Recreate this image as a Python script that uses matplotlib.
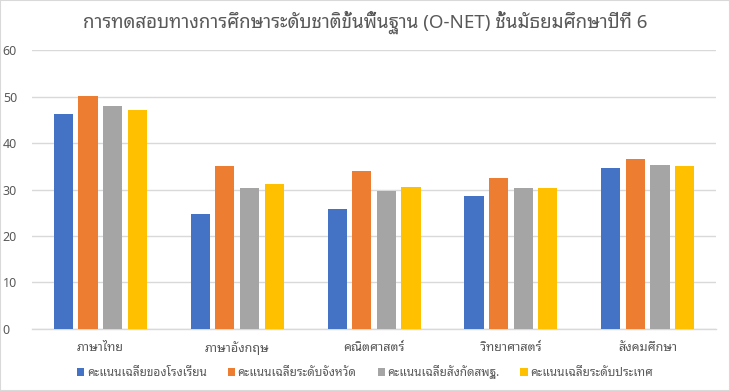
import matplotlib
matplotlib.use('Agg')
import matplotlib.pyplot as plt
from matplotlib.patches import Rectangle
import numpy as np

categories = ['ภาษาไทย', 'ภาษาอังกฤษ', 'คณิตศาสตร์', 'วิทยาศาสตร์', 'สังคมศึกษา']
series_names = ['คะแนนเฉลี่ยของโรงเรียน', 'คะแนนเฉลี่ยระดับจังหวัด', 'คะแนนเฉลี่ยสังกัดสพฐ.', 'คะแนนเฉลี่ยระดับประเทศ']
school = [46.2, 24.7, 25.8, 28.6, 34.6]
province = [50.1, 35.1, 34.0, 32.5, 36.6]
obec = [48.0, 30.3, 29.7, 30.3, 35.3]
national = [47.1, 31.2, 30.5, 30.3, 35.1]
colors = ['#4472C4', '#ED7D31', '#A5A5A5', '#FFC000']
yticks = [0, 10, 20, 30, 40, 50, 60]
title = 'การทดสอบทางการศึกษาระดับชาติขั้นพื้นฐาน (O-NET) ชั้นมัธยมศึกษาปีที่ 6'

FAM = ['Noto Sans Thai Looped', 'Noto Sans Thai', 'DejaVu Sans']
plt.rcParams['font.family'] = FAM

fig = plt.figure(figsize=(7.3, 3.91), dpi=100)
fig.patches.append(Rectangle((0, 0), 1, 1, transform=fig.transFigure, fill=False,
                             edgecolor='#D9D9D9', linewidth=1.5))
ax = fig.add_axes([0.0438, 0.1586, 0.9372, 0.7134])

x = np.arange(len(categories))
step = 0.18
width = 0.14
data = [school, province, obec, national]
for i, (vals, c, n) in enumerate(zip(data, colors, series_names)):
    ax.bar(x + (i - 1.5) * step, vals, width=width, color=c, label=n, zorder=3)

ax.set_xlim(-0.5, len(categories) - 0.5)
ax.set_ylim(0, 60)
ax.set_yticks(yticks)
ax.yaxis.grid(True, color='#D9D9D9', linewidth=1, zorder=0)
for s in ['top', 'right', 'left']:
    ax.spines[s].set_visible(False)
ax.spines['bottom'].set_color('#D9D9D9')
ax.spines['bottom'].set_linewidth(1)
ax.tick_params(axis='both', length=0, colors='#595959', labelsize=9)
ax.set_xticks(x)
ax.set_xticklabels(categories)
ax.tick_params(axis='x', pad=9)
for lbl in ax.get_yticklabels():
    lbl.set_horizontalalignment('left')
ax.tick_params(axis='y', pad=21)

fig.text(0.5, 0.943, title, ha='center', va='center', fontsize=13.5, color='#595959')

leg = fig.legend(loc='center', bbox_to_anchor=(0.5, 0.048), ncol=4, frameon=False,
                 fontsize=8.5, handlelength=0.6, handleheight=0.6, handletextpad=0.2,
                 columnspacing=1.8, labelcolor='#595959')

fig.savefig('out.png', dpi=100)
